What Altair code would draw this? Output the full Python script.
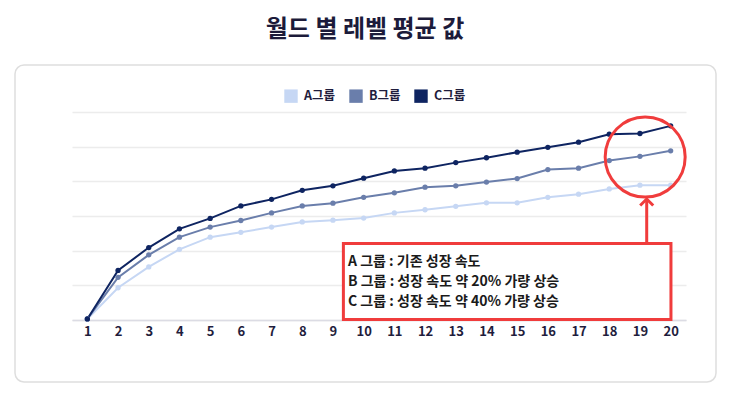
import altair as alt
import pandas as pd

# ---- data ----
weeks = list(range(1, 21))
a_vals = [0.3, 9.3, 15.3, 20.4, 23.9, 25.3, 26.8, 28.3, 28.8, 29.4,
          30.9, 31.8, 32.8, 33.8, 33.8, 35.4, 36.3, 37.8, 38.9, 38.9]
b_vals = [0.3, 12.3, 18.8, 23.9, 26.8, 28.7, 30.9, 32.9, 33.7, 35.4,
          36.7, 38.3, 38.7, 39.8, 40.8, 43.4, 43.8, 46.0, 47.2, 48.8]
c_vals = [0.3, 14.3, 20.9, 26.3, 29.3, 32.9, 34.8, 37.4, 38.7, 40.9,
          43.0, 43.8, 45.4, 46.8, 48.4, 49.8, 51.3, 53.6, 53.8, 56.0]
groups = ["A그룹", "B그룹", "C그룹"]
colors = ["#c6d7f4", "#6a7eab", "#0e2461"]
grid_values = [0, 10, 20, 30, 40, 50, 60]

title_text = "월드 별 레벨 평균 값"
note_lines = ["A 그룹 : 기존 성장 속도",
              "B 그룹 : 성장 속도 약 20% 가량 상승",
              "C 그룹 : 성장 속도 약 40% 가량 상승"]

# annotation anchors in data units
note_x = 9.49
note_y = [16.7, 11.0, 5.2]
box = {"x": 9.34, "x2": 20.01, "y": 22.07, "y2": 0.14}
circle = {"x": 19.17, "y": 47.0}
arrow = {"x": 19.22, "y": 22.07, "y2": 34.9}

FONT = "Noto Sans CJK KR"
RED = "#f03c3c"

rows = []
for g, vals in zip(groups, [a_vals, b_vals, c_vals]):
    for w, v in zip(weeks, vals):
        rows.append({"week": w, "value": v, "group": g})
df = pd.DataFrame(rows)

xs = alt.Scale(domain=[0.5, 20.5], nice=False, zero=False)
ys = alt.Scale(domain=[0, 60], nice=False)
cs = alt.Scale(domain=groups, range=colors)

x_axis = alt.Axis(values=weeks, title=None, grid=False, ticks=False, domain=True,
                  domainColor="#dcdce4", domainWidth=1.5, labelOverlap=False,
                  labelFont=FONT, labelFontSize=13, labelFontWeight="bold",
                  labelColor="#1f1d3d", labelPadding=5)
y_axis = alt.Axis(values=grid_values, title=None, labels=False, labelOverlap=False,
                  ticks=False, domain=False, grid=True, gridColor="#ececec",
                  gridWidth=1.5)

legend = alt.Legend(orient="none", legendX=212, legendY=-23, direction="horizontal",
                    title=None, symbolType="square", symbolSize=180,
                    symbolStrokeWidth=0, labelFont=FONT, labelFontSize=12.5,
                    labelFontWeight="bold", labelColor="#1f1d3d",
                    labelOffset=6, columnPadding=13)


def X(field):
    return alt.X(field, type="quantitative", scale=xs, axis=x_axis)


def Y(field):
    return alt.Y(field, type="quantitative", scale=ys, axis=y_axis)


card = alt.Chart(pd.DataFrame({"k": [0]})).mark_rect(
    fill="transparent", stroke="#dedede", strokeWidth=1.5, cornerRadius=9
).encode(x=alt.value(-57), x2=alt.value(644), y=alt.value(-47), y2=alt.value(270))

lines = alt.Chart(df).mark_line(strokeWidth=2).encode(
    x=X("week"), y=Y("value"),
    color=alt.Color("group:N", scale=cs, legend=legend),
)
points = alt.Chart(df).mark_point(filled=True, size=28, opacity=1).encode(
    x=X("week"), y=Y("value"),
    color=alt.Color("group:N", scale=cs, legend=legend),
)

box_df = pd.DataFrame([box])
box_mark = alt.Chart(box_df).mark_rect(fill="white", stroke=RED, strokeWidth=3).encode(
    x=X("x"), x2="x2:Q", y=Y("y"), y2="y2:Q",
)

note_df = pd.DataFrame({"x": [note_x] * 3, "y": note_y, "t": note_lines})
notes = alt.Chart(note_df).mark_text(
    align="left", baseline="middle", font=FONT, fontSize=14, fontWeight="bold",
    color="#1a1a1a"
).encode(x=X("x"), y=Y("y"), text="t:N")

circ = alt.Chart(pd.DataFrame([circle])).mark_point(
    shape="circle", size=6400, filled=False, stroke=RED, strokeWidth=3, opacity=1
).encode(x=X("x"), y=Y("y"))

arrow_df = pd.DataFrame([arrow])
arrow_line = alt.Chart(arrow_df).mark_rule(stroke=RED, strokeWidth=3).encode(
    x=X("x"), y=Y("y"), y2="y2:Q"
)
arrow_head = alt.Chart(arrow_df).mark_point(
    shape="M-1,1L0,0L1,1", size=170, filled=False, stroke=RED, strokeWidth=3, opacity=1
).encode(x=X("x"), y=Y("y2"))

chart = alt.layer(card, lines, points, box_mark, notes, circ, arrow_line, arrow_head).properties(
    width=614, height=208,
    autosize=alt.AutoSizeParams(type="none"),
    padding={"left": 64, "top": 104, "right": 36, "bottom": 66},
    title=alt.TitleParams(title_text, font=FONT, fontSize=24, fontWeight="bold",
                          color="#1c1b3a", anchor="middle", dx=-14, offset=22),
).configure_view(stroke=None)

chart.save("out.html", embed_options={"renderer": "svg", "actions": False})
